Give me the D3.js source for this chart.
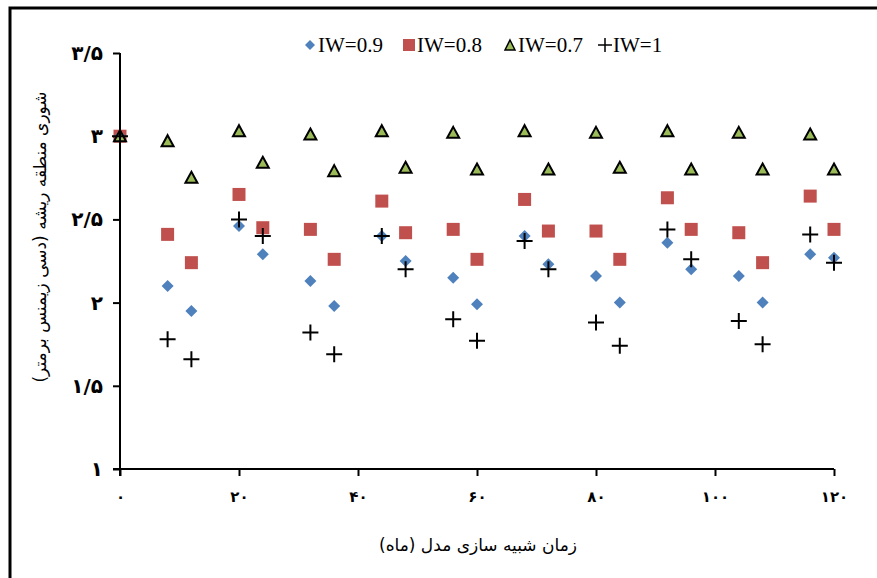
<!DOCTYPE html>
<html>
<head>
<meta charset="utf-8">
<script src="https://cdn.jsdelivr.net/npm/d3@7"></script>
<style>
  body { margin: 0; background: #fff; }
</style>
</head>
<body>
<div id="chart"></div>
<script>
// months of the simulation
const months = [0, 8, 12, 20, 24, 32, 36, 44, 48, 56, 60, 68, 72, 80, 84, 92, 96, 104, 108, 116, 120];
const iw09 = [3.0, 2.10, 1.95, 2.46, 2.29, 2.13, 1.98, 2.40, 2.25, 2.15, 1.99, 2.40, 2.23, 2.16, 2.00, 2.36, 2.20, 2.16, 2.00, 2.29, 2.27];
const iw08 = [3.0, 2.41, 2.24, 2.65, 2.45, 2.44, 2.26, 2.61, 2.42, 2.44, 2.26, 2.62, 2.43, 2.43, 2.26, 2.63, 2.44, 2.42, 2.24, 2.64, 2.44];
const iw07 = [3.0, 2.97, 2.75, 3.03, 2.84, 3.01, 2.79, 3.03, 2.81, 3.02, 2.80, 3.03, 2.80, 3.02, 2.81, 3.03, 2.80, 3.02, 2.80, 3.01, 2.80];
const iw1 = [3.0, 1.78, 1.66, 2.50, 2.40, 1.82, 1.69, 2.40, 2.20, 1.90, 1.77, 2.37, 2.20, 1.88, 1.74, 2.44, 2.26, 1.89, 1.75, 2.41, 2.24];

const xTicks = [0, 20, 40, 60, 80, 100, 120];
const yTicks = [1, 1.5, 2, 2.5, 3, 3.5];
const legendLabels = ['IW=0.9', 'IW=0.8', 'IW=0.7', 'IW=1'];

const w = 877;
const h = 578;
const faDigits = '۰۱۲۳۴۵۶۷۸۹';
const toFa = s => String(s).replace(/[0-9]/g, d => faDigits[+d]).replace('.', '/');

const svg = d3.select('#chart')
  .append('svg')
  .attr('width', w)
  .attr('height', h)

// frame
svg.append('path')
  .attr('d', 'M10,' + h + ' L10,8 L' + w + ',8')
  .attr('fill', 'none')
  .attr('stroke', '#000')
  .attr('stroke-width', 3)

const xScale = d3.scaleLinear().domain([0, 120]).range([120, 834])
const yScale = d3.scaleLinear().domain([1, 3.5]).range([469, 53])

const xAxis = d3.axisBottom(xScale).tickValues(xTicks).tickSize(7).tickSizeOuter(0).tickFormat(d => toFa(d))
const yAxis = d3.axisLeft(yScale).tickValues(yTicks).tickSize(7).tickSizeOuter(0).tickFormat(d => toFa(d))

const gx = svg.append('g')
  .attr('transform', 'translate(0,469)')
  .call(xAxis)
gx.select('.domain').attr('stroke-width', 2).attr('d', 'M113,0H834')
gx.selectAll('.tick line').attr('stroke-width', 2)
gx.selectAll('.tick text')
  .attr('y', 22)
  .attr('font-family', 'DejaVu Sans')
  .attr('font-weight', 'bold')
  .attr('font-size', 15)
  .attr('fill', '#000')

const gy = svg.append('g')
  .attr('transform', 'translate(120,0)')
  .call(yAxis)
gy.select('.domain').attr('stroke-width', 2).attr('d', 'M0,53V476')
gy.selectAll('.tick line').attr('stroke-width', 2)
gy.selectAll('.tick text')
  .attr('x', -17)
  .attr('font-family', 'DejaVu Sans')
  .attr('font-weight', 'bold')
  .attr('font-size', 20)
  .attr('fill', '#000')

// axis titles
svg.append('text')
  .attr('x', 478)
  .attr('y', 551)
  .attr('text-anchor', 'middle')
  .attr('font-family', 'DejaVu Sans')
  .attr('font-size', 17)
  .text('زمان شبیه سازی مدل (ماه)')

svg.append('text')
  .attr('transform', 'translate(46,237) rotate(-90)')
  .attr('text-anchor', 'middle')
  .attr('font-family', 'DejaVu Sans')
  .attr('font-size', 17)
  .text('شوری منطقه ریشه (دسی زیمنس برمتر)')

function drawSeries(vals, kind) {
  const g = svg.append('g')
  const pts = g.selectAll('path')
    .data(months.map((m, i) => ({ m: m, v: vals[i] })))
    .enter()
  if (kind === 'plus') {
    pts.append('path')
      .attr('d', d => {
        const x = xScale(d.m), y = yScale(d.v)
        return 'M' + (x - 8) + ',' + y + 'H' + (x + 8) + 'M' + x + ',' + (y - 8) + 'V' + (y + 8)
      })
      .attr('stroke', '#000')
      .attr('stroke-width', 2)
  } else if (kind === 'diamond') {
    pts.append('path')
      .attr('d', 'M0,-6L6,0L0,6L-6,0Z')
      .attr('transform', d => 'translate(' + xScale(d.m) + ',' + yScale(d.v) + ')')
      .attr('fill', '#4F81BD')
  } else if (kind === 'square') {
    pts.append('rect')
      .attr('x', d => xScale(d.m) - 6.5)
      .attr('y', d => yScale(d.v) - 6.5)
      .attr('width', 13)
      .attr('height', 13)
      .attr('fill', '#C0504D')
  } else {
    pts.append('path')
      .attr('d', 'M0,-6L6,5L-6,5Z')
      .attr('transform', d => 'translate(' + xScale(d.m) + ',' + yScale(d.v) + ')')
      .attr('fill', '#9BBB59')
      .attr('stroke', '#000')
      .attr('stroke-width', 2)
  }
}

drawSeries(iw08, 'square')
drawSeries(iw09, 'diamond')
drawSeries(iw07, 'triangle')
drawSeries(iw1, 'plus')

// legend
const legend = svg.append('g').attr('font-family', 'Liberation Serif').attr('font-size', 21)
const legX = [310, 409, 510, 605]
const kinds = ['diamond', 'square', 'triangle', 'plus']
legendLabels.forEach((lab, i) => {
  const x = legX[i], y = 45
  if (kinds[i] === 'diamond') {
    legend.append('path').attr('d', 'M' + x + ',' + (y - 5) + 'l5,5l-5,5l-5,-5Z').attr('fill', '#4F81BD')
  } else if (kinds[i] === 'square') {
    legend.append('rect').attr('x', x - 6).attr('y', y - 6).attr('width', 12).attr('height', 12).attr('fill', '#C0504D')
  } else if (kinds[i] === 'triangle') {
    legend.append('path').attr('d', 'M' + x + ',' + (y - 5) + 'l5,10h-10Z').attr('fill', '#9BBB59').attr('stroke', '#000').attr('stroke-width', 1.5)
  } else {
    legend.append('path').attr('d', 'M' + (x - 7) + ',' + y + 'h14M' + x + ',' + (y - 7) + 'v14').attr('stroke', '#000').attr('stroke-width', 1.5)
  }
  legend.append('text')
    .attr('x', x + 8)
    .attr('y', y + 7)
    .text(lab)
})
</script>
</body>
</html>
